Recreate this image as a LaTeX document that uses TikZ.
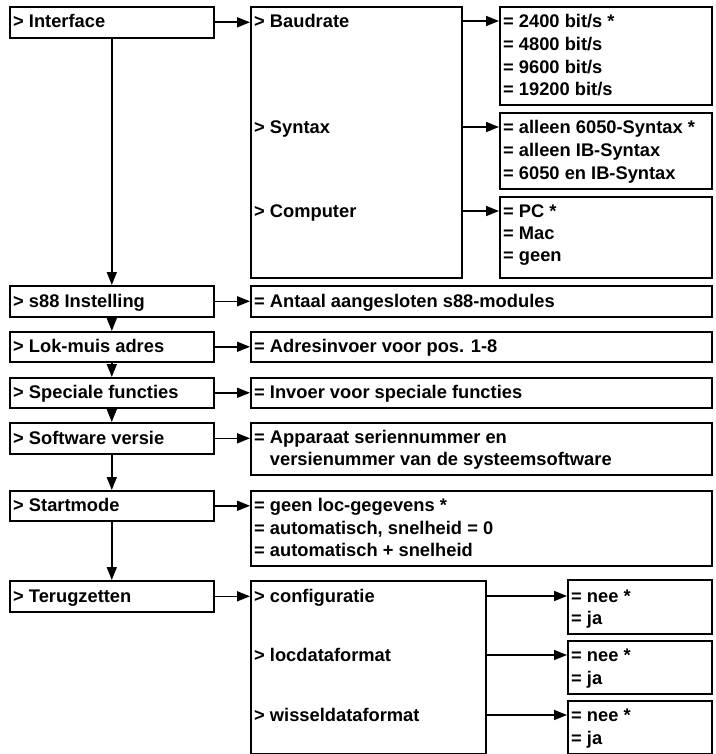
\documentclass[tikz,border=0pt]{standalone}
\usepackage{fontspec}
\setmainfont{Liberation Sans}
\usetikzlibrary{arrows.meta}
\newcommand\mybox[5]{\node[box, minimum width={#4pt-#2pt}, minimum height={#5pt-#3pt}] (#1) at (#2,#3) {};}
\newcommand\mytext[4]{\node[txt] (#1) at (#2,#3) {#4};}
\begin{document}
\begin{tikzpicture}[x=1pt,y=-1pt,
  box/.style={draw, line width=1.6pt, inner sep=0pt, anchor=north west},
  txt/.style={inner sep=0pt, anchor=west, text height=13pt, text depth=0pt, font=\fontsize{18.3}{22}\selectfont\bfseries},
  arr/.style={line width=1.6pt, -{Triangle[length=13pt,width=10pt]}}]
\useasboundingbox (0,0) rectangle (715,754);
% left column
\mybox{iface}{9}{6}{213}{37}
\mybox{s88}{9}{285}{213}{316}
\mybox{lok}{9}{331}{213}{361}
\mybox{spec}{9}{377}{213}{407}
\mybox{soft}{9}{422}{213}{453}
\mybox{start}{9}{490}{213}{520}
\mybox{terug}{9}{580}{213}{611}
% middle / right
\mybox{imid}{250}{6}{461}{277}
\mybox{baud}{499}{6}{711}{104}
\mybox{syn}{499}{112}{711}{188}
\mybox{comp}{499}{196}{711}{277}
\mybox{s88r}{250}{285}{711}{316}
\mybox{lokr}{250}{331}{711}{361}
\mybox{specr}{250}{377}{711}{407}
\mybox{softr}{250}{422}{711}{474}
\mybox{startr}{250}{490}{711}{565}
\mybox{tmid}{250}{580}{485}{753}
\mybox{cfg}{567}{579}{711}{633}
\mybox{loc}{567}{640}{711}{693}
\mybox{wis}{567}{700}{711}{753}
% texts left
\mytext{t-iface}{13}{21.5}{> Interface}
\mytext{t-s88}{13}{300.5}{> s88 Instelling}
\mytext{t-lok}{13}{346}{> Lok-muis adres}
\mytext{t-spec}{13}{392}{> Speciale functies}
\mytext{t-soft}{13}{437.5}{> Software versie}
\mytext{t-start}{13}{505}{> Startmode}
\mytext{t-terug}{13}{595.5}{> Terugzetten}
% interface submenu
\mytext{t-baud}{254}{21}{> Baudrate}
\mytext{t-syn}{254}{127}{> Syntax}
\mytext{t-comp}{254}{211}{> Computer}
\mytext{b1}{503}{21}{= 2400 bit/s *}
\mytext{b2}{503}{44}{= 4800 bit/s}
\mytext{b3}{503}{67}{= 9600 bit/s}
\mytext{b4}{503}{89}{= 19200 bit/s}
\mytext{s1}{503}{127}{= alleen 6050-Syntax *}
\mytext{s2}{503}{150}{= alleen IB-Syntax}
\mytext{s3}{503}{173}{= 6050 en IB-Syntax}
\mytext{c1}{503}{211}{= PC *}
\mytext{c2}{503}{233}{= Mac}
\mytext{c3}{503}{255}{= geen}
% other right boxes
\mytext{r-s88}{254}{300.5}{= Antaal aangesloten s88-modules}
\mytext{r-lok}{254}{346}{= Adresinvoer voor pos. 1-8}
\mytext{r-spec}{254}{392}{= Invoer voor speciale functies}
\mytext{r-soft1}{254}{437}{= Apparaat seriennummer en}
\mytext{r-soft2}{254}{459}{\phantom{= }versienummer van de systeemsoftware}
\mytext{r-st1}{254}{505}{= geen loc-gegevens *}
\mytext{r-st2}{254}{528}{= automatisch, snelheid = 0}
\mytext{r-st3}{254}{550}{= automatisch + snelheid}
% terugzetten submenu
\mytext{t-cfg}{254}{596}{> configuratie}
\mytext{t-loc}{254}{655}{> locdataformat}
\mytext{t-wis}{254}{715}{> wisseldataformat}
\mytext{cf1}{571}{596}{= nee *}
\mytext{cf2}{571}{618}{= ja}
\mytext{lo1}{571}{655}{= nee *}
\mytext{lo2}{571}{678}{= ja}
\mytext{wi1}{571}{715}{= nee *}
\mytext{wi2}{571}{738}{= ja}
% vertical arrows
\draw[arr] (iface.south) -- (s88.north);
\draw[arr] (s88.south) -- (lok.north);
\draw[arr] (lok.south) -- (spec.north);
\draw[arr] (spec.south) -- (soft.north);
\draw[arr] (soft.south) -- (start.north);
\draw[arr] (start.south) -- (terug.north);
% horizontal arrows
\draw[arr] (iface.east) -- (iface.east -| imid.west);
\draw[arr] (t-baud -| imid.east) -- (t-baud -| baud.west);
\draw[arr] (t-syn -| imid.east) -- (t-syn -| syn.west);
\draw[arr] (t-comp -| imid.east) -- (t-comp -| comp.west);
\draw[arr] (s88.east) -- (s88.east -| s88r.west);
\draw[arr] (lok.east) -- (lok.east -| lokr.west);
\draw[arr] (spec.east) -- (spec.east -| specr.west);
\draw[arr] (soft.east) -- (soft.east -| softr.west);
\draw[arr] (start.east) -- (start.east -| startr.west);
\draw[arr] (terug.east) -- (terug.east -| tmid.west);
\draw[arr] (t-cfg -| tmid.east) -- (t-cfg -| cfg.west);
\draw[arr] (t-loc -| tmid.east) -- (t-loc -| loc.west);
\draw[arr] (t-wis -| tmid.east) -- (t-wis -| wis.west);
\end{tikzpicture}
\end{document}
